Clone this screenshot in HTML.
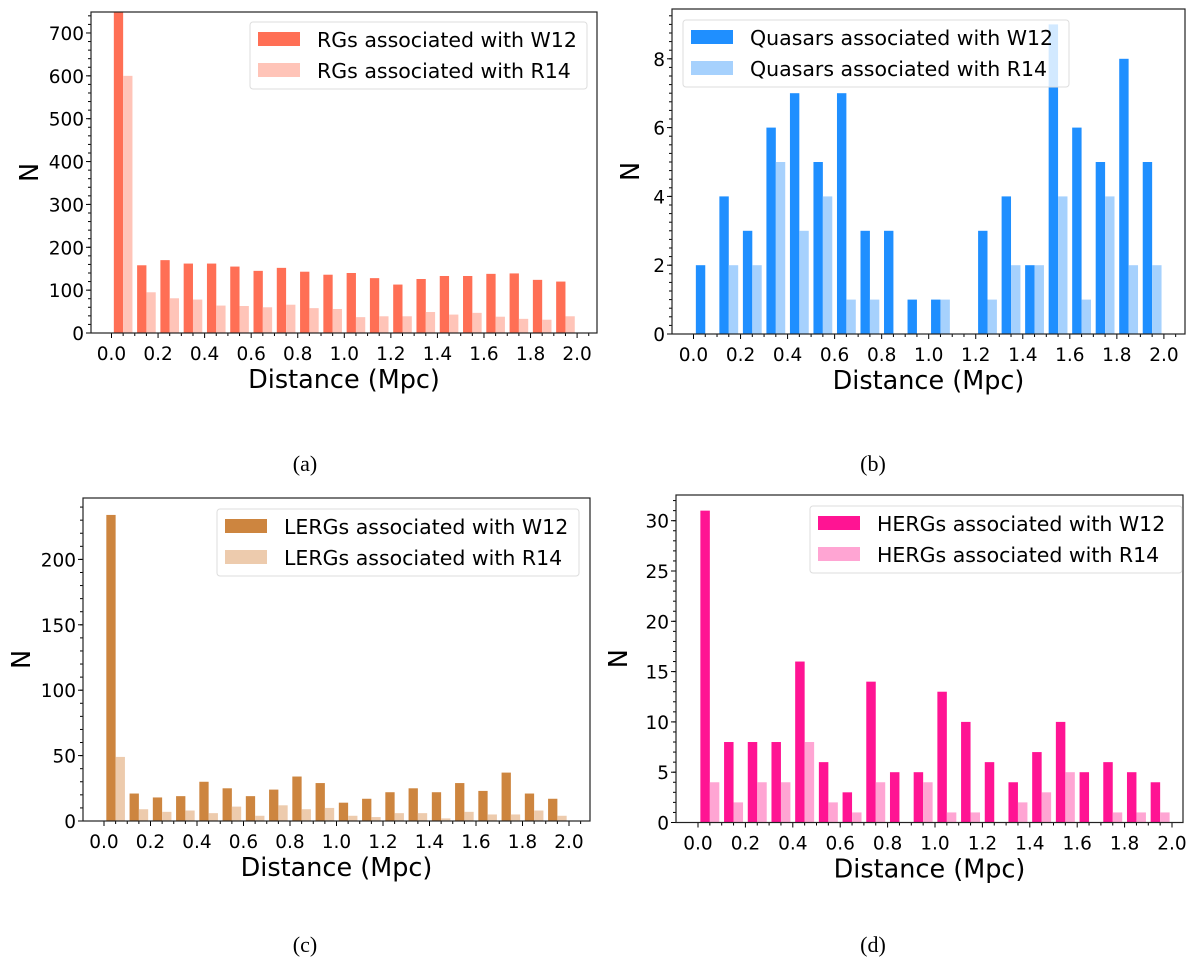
<!DOCTYPE html>
<html><head><meta charset="utf-8">
<style>
html,body{margin:0;padding:0;background:#fff;}
svg{display:block;}
text{font-family:"DejaVu Sans","Liberation Sans",sans-serif;fill:#000;}
.cap{font-family:"Liberation Serif",serif;font-size:22px;}
</style></head>
<body>
<svg id="fig" width="1200" height="975" viewBox="0 0 1200 975" xmlns="http://www.w3.org/2000/svg"></svg>
<script>
// Panel (a) RGs
const aW12 = [760,158,170,162,162,155,145,152,143,136,140,128,113,126,133,133,138,139,124,120];
const aR14 = [600,95,81,78,64,63,60,66,58,56,37,39,39,49,43,47,38,33,31,39];
const aYTicks = [0,100,200,300,400,500,600,700];
// Panel (b) Quasars
const bW12 = [2,4,3,6,7,5,7,3,3,1,1,0,3,4,2,9,6,5,8,5];
const bR14 = [0,2,2,5,3,4,1,1,0,0,1,0,1,2,2,4,1,4,2,2];
const bYTicks = [0,2,4,6,8];
// Panel (c) LERGs
const cW12 = [234,21,18,19,30,25,19,24,34,29,14,17,22,25,22,29,23,37,21,17];
const cR14 = [49,9,7,8,6,11,4,12,9,10,4,3,6,6,2,7,5,5,8,4];
const cYTicks = [0,50,100,150,200];
// Panel (d) HERGs
const dW12 = [31,8,8,8,16,6,3,14,5,5,13,10,6,4,7,10,5,6,5,4];
const dR14 = [4,2,4,4,8,2,1,4,0,4,1,1,0,2,3,5,0,1,1,1];
const dYTicks = [0,5,10,15,20,25,30];
const xTicks = [0.0,0.2,0.4,0.6,0.8,1.0,1.2,1.4,1.6,1.8,2.0];
const binEdges = [0,0.1,0.2,0.3,0.4,0.5,0.6,0.7,0.8,0.9,1.0,1.1,1.2,1.3,1.4,1.5,1.6,1.7,1.8,1.9];

const NS='http://www.w3.org/2000/svg';
const fig=document.getElementById('fig');
function mk(tag,attrs,parent){const e=document.createElementNS(NS,tag);for(const k in attrs)e.setAttribute(k,attrs[k]);(parent||fig).appendChild(e);return e;}

function panel(p){
  const g=mk('g',{});
  
  
  const X=v=>p.x0+v*p.xs;
  const Y=v=>p.y0-v*p.ys;
  const clip=mk('clipPath',{id:'clip-'+p.name},g);
  mk('rect',{x:p.L,y:p.T,width:p.R-p.L,height:p.y0-p.T},clip);
  const bars=mk('g',{'clip-path':'url(#clip-'+p.name+')'},g);
  binEdges.forEach((b,i)=>{
    [[p.w12,p.c1,0.01,'w12'],[p.r14,p.c2,0.05,'r14']].forEach(([arr,col,off,s])=>{
      const v=arr[i]; if(!v) return;
      const r=mk('rect',{x:X(b+off),y:Y(v),width:X(b+off+0.04)-X(b+off),height:Y(0)-Y(v),fill:col},bars);
      
      
    });
  });
  const tk=mk('g',{stroke:'#000','stroke-width':1},g);
  for(let v=0;v<=2.1001;v+=0.05){const x=X(v);if(x<p.L||x>p.R)continue;const major=Math.abs(v*10-Math.round(v*10))<0.01&&Math.round(v*10)%2===0;mk('line',{x1:x,x2:x,y1:p.y0,y2:p.y0+(major?5:3)},tk);}
  for(let v=0;Y(v)>=p.T;v+=p.minor){mk('line',{x1:p.L,x2:p.L-3,y1:Y(v),y2:Y(v)},tk);}
  p.yt.forEach(v=>{mk('line',{x1:p.L,x2:p.L-5,y1:Y(v),y2:Y(v)},tk);
    const t=mk('text',{x:p.L-7,y:Y(v)+7,'text-anchor':'end','font-size':18.5},g);t.textContent=v;
    
    });
  xTicks.forEach(v=>{const t=mk('text',{x:X(v),y:p.y0+27,'text-anchor':'middle','font-size':18.5},g);t.textContent=v.toFixed(1);
    
    });
  mk('rect',{x:p.L,y:p.T,width:p.R-p.L,height:p.y0-p.T,fill:'none',stroke:'#222','stroke-width':1.2},g);
  const xl=mk('text',{x:(p.L+p.R)/2,y:p.y0+55,'text-anchor':'middle','font-size':25.5},g);xl.textContent='Distance (Mpc)';
  
  
  const ym=(p.T+p.y0)/2;
  const yl=mk('text',{x:p.nx,y:ym,'text-anchor':'middle','font-size':25.5,transform:'rotate(-90 '+p.nx+' '+ym+')'},g);yl.textContent='N';
  
  
  const lg=mk('g',{},g);
  
  
  mk('rect',{x:p.lx,y:p.ly,width:p.lw,height:67,rx:3,fill:'rgba(255,255,255,0.8)',stroke:'#ddd'},lg);
  [[p.c1,'W12',0],[p.c2,'R14',1]].forEach(([c,s,k])=>{
    mk('rect',{x:p.lx+8,y:p.ly+10+k*31,width:42,height:14,fill:c},lg);
    const t=mk('text',{x:p.lx+67,y:p.ly+25+k*31,'font-size':20.5},lg);t.textContent=p.label+' associated with '+s;
    
    
  });
  const cap=mk('text',{x:p.capx,y:p.capy,'text-anchor':'middle',class:'cap'},g);cap.textContent=p.cap;
  
  
}

panel({name:'panel-a',w12:aW12,r14:aR14,yt:aYTicks,minor:20,L:91,R:597,T:12,y0:333,x0:111.5,xs:232.8,ys:0.4286,
  c1:'#ff6f55',c2:'#ffc4b8',label:'RGs',lx:250,ly:22,lw:337,nx:38,cap:'(a)',capx:305,capy:471});
panel({name:'panel-b',w12:bW12,r14:bR14,yt:bYTicks,minor:0.25,L:672,R:1185,T:9,y0:334,x0:693.5,xs:235.2,ys:34.4,
  c1:'#1f8fff',c2:'#a6d1fd',label:'Quasars',lx:683,ly:20,lw:386,nx:639,cap:'(b)',capx:873,capy:471});
panel({name:'panel-c',w12:cW12,r14:cR14,yt:cYTicks,minor:10,L:83,R:590,T:498,y0:821,x0:104,xs:232.5,ys:1.308,
  c1:'#cd853f',c2:'#edcbad',label:'LERGs',lx:217,ly:509,lw:362,nx:30,cap:'(c)',capx:305,capy:952});
panel({name:'panel-d',w12:dW12,r14:dR14,yt:dYTicks,minor:1,L:676,R:1183,T:495,y0:822.5,x0:698,xs:237,ys:10.06,
  c1:'#ff1493',c2:'#ffa5d3',label:'HERGs',lx:810,ly:506,lw:372,nx:627,cap:'(d)',capx:873,capy:952});
</script>
</body></html>
